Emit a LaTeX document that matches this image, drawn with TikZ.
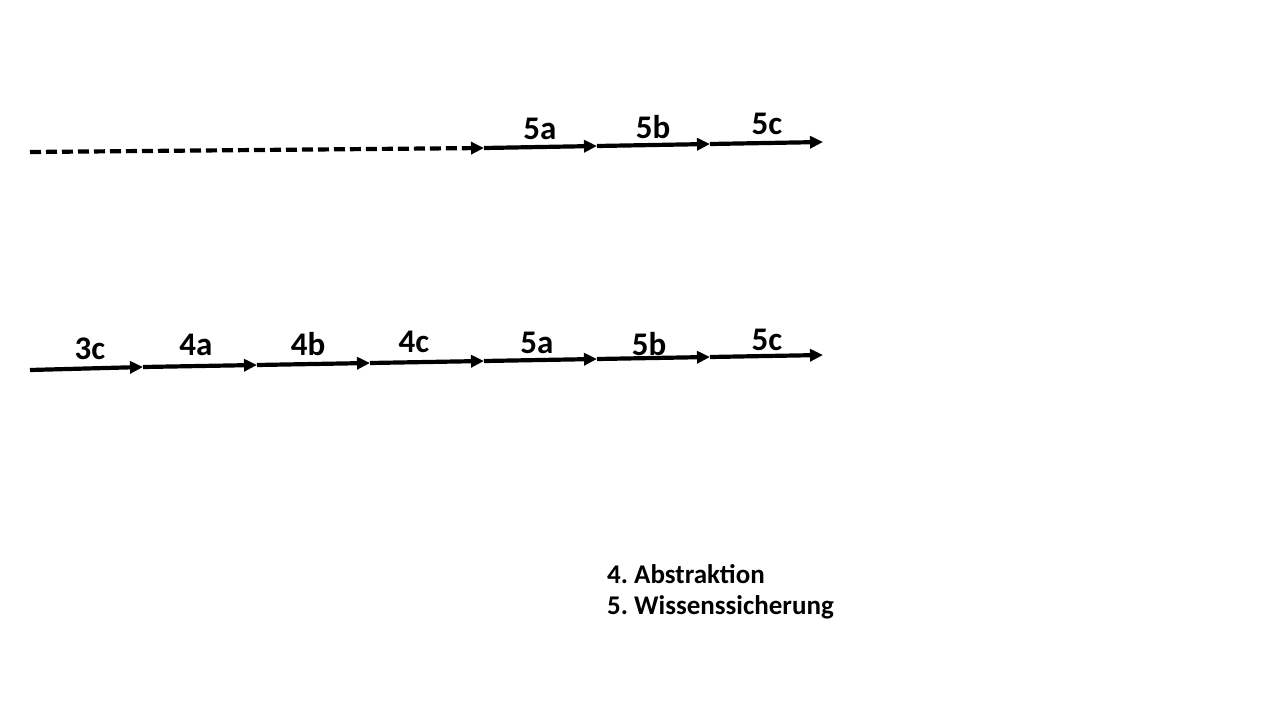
\documentclass[tikz,border=0pt]{standalone}
\usepackage{fontspec}
\setmainfont{Carlito}
\usetikzlibrary{arrows.meta}
\frenchspacing
\tikzset{
  stepline/.style={line width=4.2pt, -{Triangle[length=13pt,width=12pt]}},
  dashline/.style={stepline, dash pattern=on 11pt off 5pt},
  steplabel/.style={font=\fontsize{33}{40}\selectfont\bfseries, inner sep=0pt},
  legend/.style={font=\fontsize{27}{31}\selectfont\bfseries, align=left, anchor=north west, inner sep=0pt}
}
\begin{document}
\begin{tikzpicture}[x=1pt, y=-1pt]
\useasboundingbox (0,0) rectangle (1280,720);
% upper row
\coordinate (t0) at (30,152);
\coordinate (t1) at (484,148);
\coordinate (t2) at (597,146);
\coordinate (t3) at (710,144);
\coordinate (t4) at (823,142);
\draw[dashline] (t0) -- (t1);
\draw[stepline] (t1) -- (t2);
\draw[stepline] (t2) -- (t3);
\draw[stepline] (t3) -- (t4);
\node[steplabel] (u5a) at (540,129) {5a};
\node[steplabel] (u5b) at (653,127) {5b};
\node[steplabel] (u5c) at (767,124) {5c};
% lower row
\coordinate (b0) at (30,370);
\coordinate (b1) at (143,367);
\coordinate (b2) at (257,365);
\coordinate (b3) at (370,363);
\coordinate (b4) at (484,361);
\coordinate (b5) at (597,359);
\coordinate (b6) at (710,357);
\coordinate (b7) at (823,355);
\foreach \a/\b in {b0/b1, b1/b2, b2/b3, b3/b4, b4/b5, b5/b6, b6/b7}
  \draw[stepline] (\a) -- (\b);
\node[steplabel] (l3c) at (90,349) {3c};
\node[steplabel] (l4a) at (196,345) {4a};
\node[steplabel] (l4b) at (308,344) {4b};
\node[steplabel] (l4c) at (414,342) {4c};
\node[steplabel] (l5a) at (537,343) {5a};
\node[steplabel] (l5b) at (649,344) {5b};
\node[steplabel] (l5c) at (767,340) {5c};
% legend
\node[legend] (key) at (607,564) {4. Abstraktion\\5. Wissenssicherung};
\end{tikzpicture}
\end{document}
